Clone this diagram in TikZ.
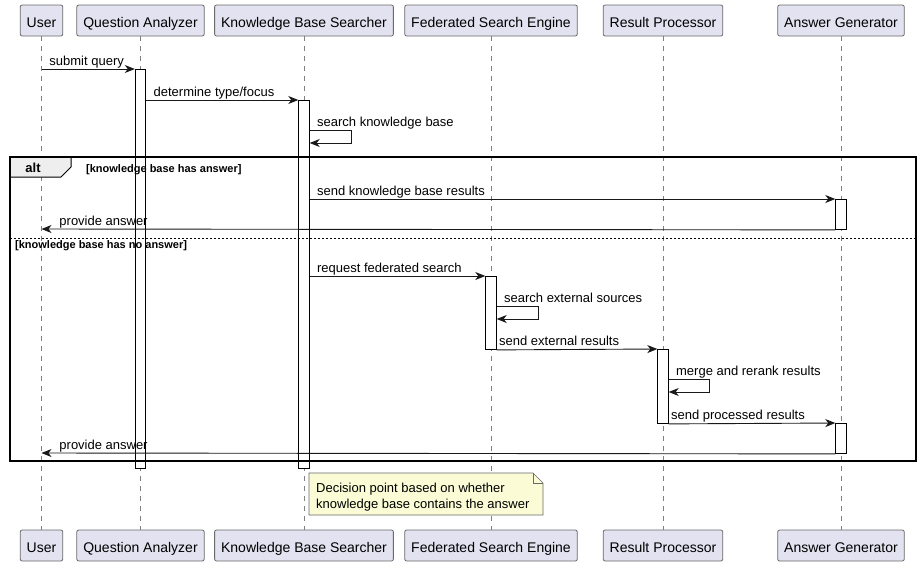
\documentclass[tikz,border=0pt]{standalone}
\usepackage{fontspec}
\setmainfont{Liberation Sans}
\usetikzlibrary{arrows.meta, positioning}

\definecolor{partfill}{HTML}{E2E2F0}
\definecolor{partline}{HTML}{6A6A6A}
\definecolor{notefill}{HTML}{FBFBD6}
\definecolor{tabfill}{HTML}{EEEEEE}

\begin{document}
\begin{tikzpicture}[x=1pt,y=-1pt,
  part/.style={draw=partline, fill=partfill, rounded corners=2pt, line width=0.8pt,
    minimum height=31pt, inner xsep=6.5pt, text height=14pt, text depth=0pt,
    font=\fontsize{14}{16}\selectfont},
  life/.style={draw=gray, line width=0.6pt, dash pattern=on 5pt off 5pt},
  act/.style={draw=black, fill=white, line width=0.9pt, minimum width=10.5pt,
    inner sep=0pt, anchor=north},
  msg/.style={draw=black!90, line width=0.9pt, -{Stealth[length=10pt,width=8pt,inset=3pt]}},
  lbl/.style={font=\fontsize{13}{15}\selectfont, inner sep=0pt, anchor=base west},
  guard/.style={font=\bfseries\fontsize{11}{13}\selectfont, inner sep=0pt, anchor=base west}]
\fill[white] (0,0) rectangle (921,566);

\foreach \n/\x/\t in {user/41.5/User, qa/140.5/Question Analyzer,
    kb/304/Knowledge Base Searcher, fe/491/Federated Search Engine,
    rp/663/Result Processor, ag/841/Answer Generator}{
  \node[part] (\n T) at (\x,20.5) {\t};
  \node[part] (\n B) at (\x,545.5) {\t};
  \draw[life] (\n T) -- (\n B);
}

\node[act, minimum height=399pt] (qaA) at (140.5,69) {};
\node[act, minimum height=368pt] (kbA) at (304,100) {};
\node[act, minimum height=30pt] (agA1) at (841,199) {};
\node[act, minimum height=73pt] (feA) at (491,276) {};
\node[act, minimum height=74pt] (rpA) at (663,349) {};
\node[act, minimum height=30pt] (agA2) at (841,423) {};

\coordinate (uQ) at (41.5,69);
\coordinate (uA1) at (41.5,229);
\coordinate (uA2) at (41.5,453);

\draw[msg] (uQ) -- node[lbl, pos=0, xshift=7.5pt, yshift=4pt] {submit query} (qaA.north west);
\draw[msg] ([yshift=-31pt]qaA.north east) -- node[lbl, pos=0, xshift=7pt, yshift=4pt] {determine type/focus} (kbA.north west);
\draw[msg] ([yshift=-30pt]kbA.north east) -- node[lbl, pos=0, xshift=7pt, yshift=4pt] {search knowledge base} ++(42,0) -- ++(0,13) -- ([yshift=-43pt]kbA.north east);

% alt block
\draw[fill=tabfill, line width=1pt] (10,157) -- (71,157) -- (71,167) -- (61,177) -- (10,177) -- cycle;
\draw[line width=1.5pt] (10,157) rectangle (916,461);
\node[font=\bfseries\fontsize{13}{15}\selectfont, inner sep=0pt, anchor=base] (alt) at (33,172.5) {alt};
\node[guard] (g1) at (86,172) {[knowledge base has answer]};
\draw[line width=0.8pt, dash pattern=on 2pt off 2pt] (10,238) -- (916,238);
\node[guard] (g2) at (15,248.5) {[knowledge base has no answer]};

\draw[msg] ([yshift=-99pt]kbA.north east) -- node[lbl, pos=0, xshift=7pt, yshift=4pt] {send knowledge base results} (agA1.north west);
\draw[msg] (agA1.south west) -- node[lbl, pos=1, xshift=17.5pt, yshift=4pt] {provide answer} (uA1);

\draw[msg] ([yshift=-176pt]kbA.north east) -- node[lbl, pos=0, xshift=7pt, yshift=4pt] {request federated search} (feA.north west);
\draw[msg] ([yshift=-30pt]feA.north east) -- node[lbl, pos=0, xshift=7pt, yshift=4pt] {search external sources} ++(42,0) -- ++(0,13) -- ([yshift=-43pt]feA.north east);
\draw[msg] (feA.south east) -- node[lbl, pos=0, xshift=2pt, yshift=4pt] {send external results} (rpA.north west);
\draw[msg] ([yshift=-30pt]rpA.north east) -- node[lbl, pos=0, xshift=7pt, yshift=4pt] {merge and rerank results} ++(41,0) -- ++(0,13) -- ([yshift=-43pt]rpA.north east);
\draw[msg] (rpA.south east) -- node[lbl, pos=0, xshift=2pt, yshift=4pt] {send processed results} (agA2.north west);
\draw[msg] (agA2.south west) -- node[lbl, pos=1, xshift=17.5pt, yshift=4pt] {provide answer} (uA2);

% note
\draw[draw=partline, fill=notefill, line width=0.7pt] (309,473) -- (533,473) -- (543,483) -- (543,515) -- (309,515) -- cycle;
\draw[draw=partline, line width=0.7pt] (533,473) -- (533,483) -- (543,483);
\node[lbl] (note1) at (316,492.5) {Decision point based on whether};
\node[lbl] (note2) at (316,508.5) {knowledge base contains the answer};
\end{tikzpicture}
\end{document}
